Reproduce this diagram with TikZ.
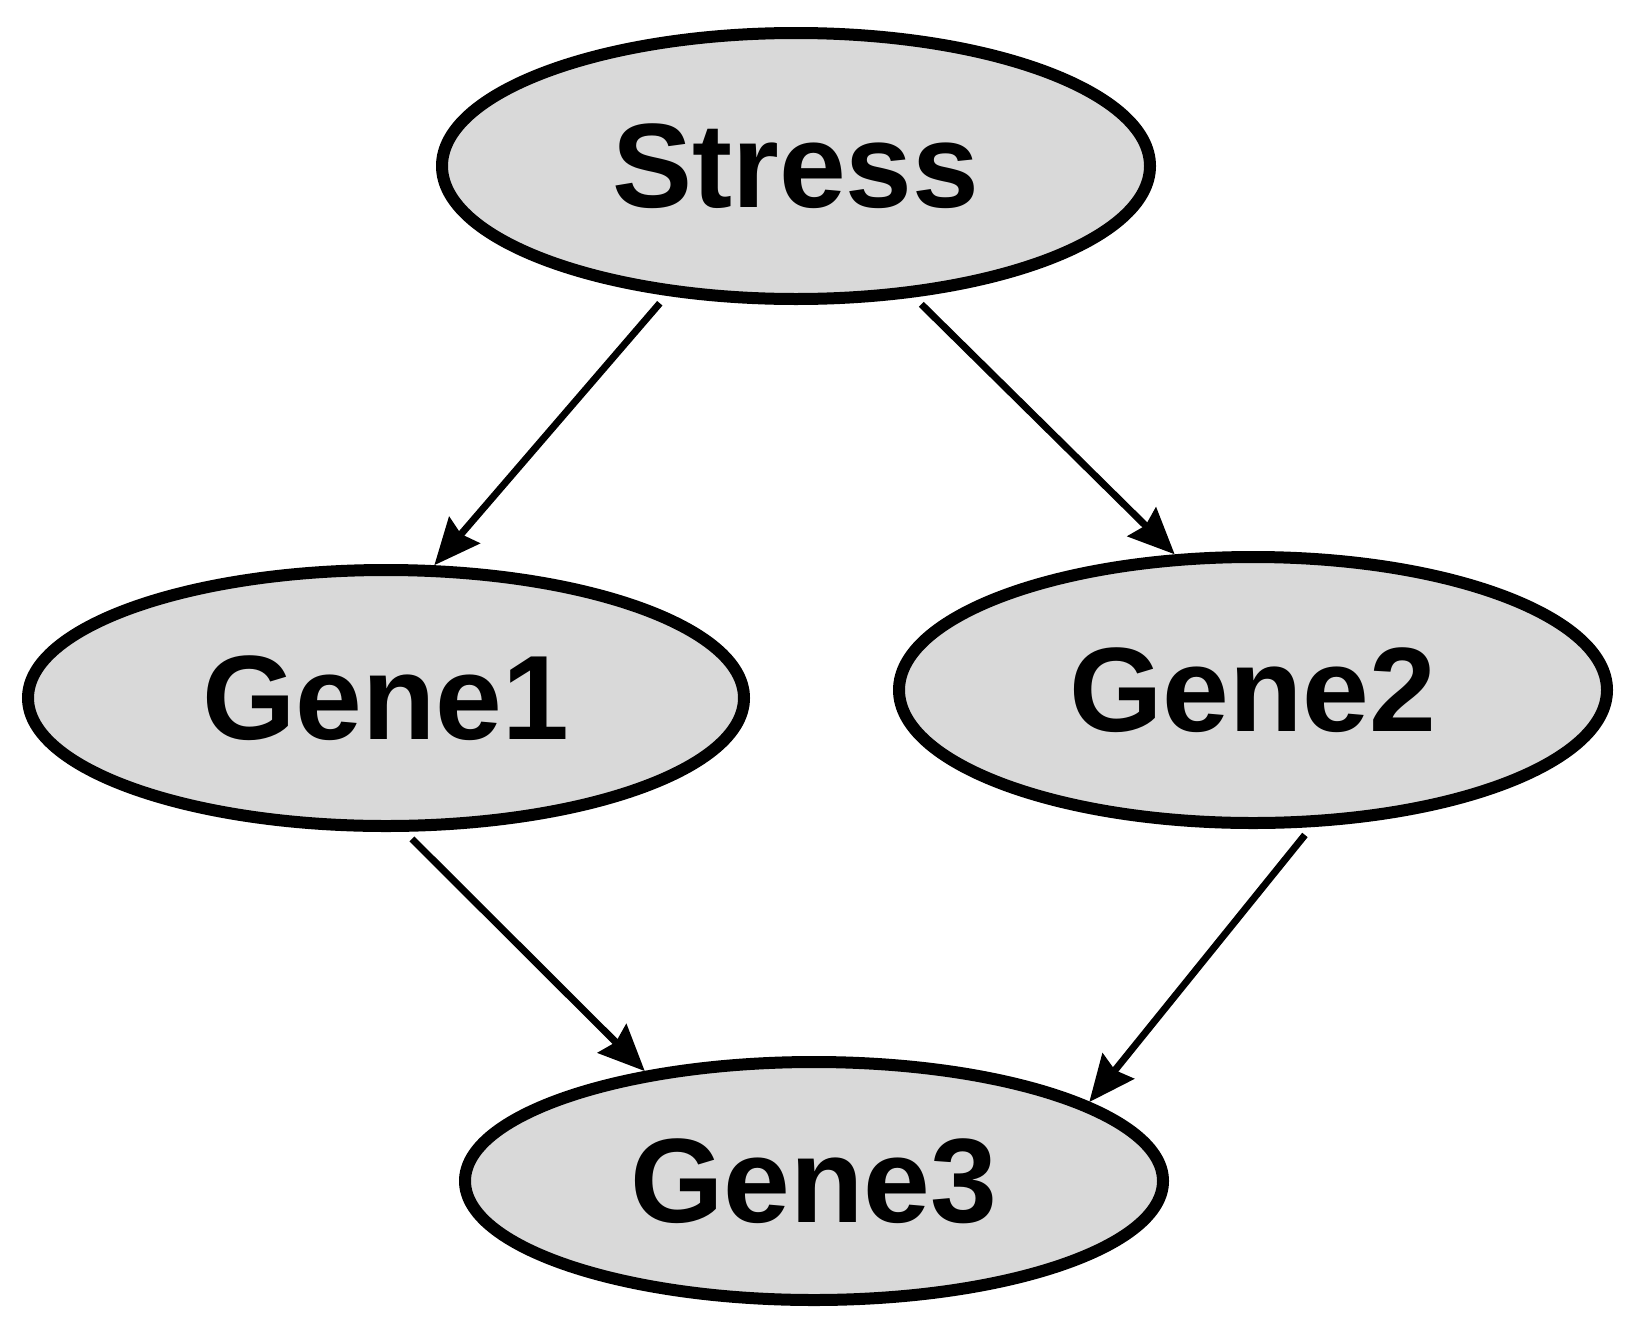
\documentclass[tikz,border=0pt]{standalone}
\usepackage{fontspec}
\setmainfont{Liberation Sans}
\usetikzlibrary{shapes.geometric,arrows.meta}
\begin{document}
\begin{tikzpicture}[x=1pt,y=-1pt,
  gene/.style={ellipse,draw=black,fill={rgb,255:red,217;green,217;blue,217},line width=12pt,inner sep=0pt,font=\fontsize{120}{126}\selectfont\bfseries},
  arr/.style={line width=7pt,-{Stealth[length=46pt,width=40pt,inset=5pt]},shorten <=10pt}]
\useasboundingbox (0,0) rectangle (1630,1328);
\node[gene,minimum width=708pt,minimum height=266pt] (S) at (796,166) {Stress};
\node[gene,minimum width=716pt,minimum height=256pt] (G1) at (386,698) {Gene1};
\node[gene,minimum width=708pt,minimum height=266pt] (G2) at (1253,690) {Gene2};
\node[gene,minimum width=698pt,minimum height=238pt] (G3) at (814,1181) {Gene3};
\draw[arr] (S.225) -- (G1.70);
\draw[arr] (S.312) -- (G2.120);
\draw[arr] (G1.278) -- (G3.147);
\draw[arr] (G2.293) -- (G3.16);
\end{tikzpicture}
\end{document}
